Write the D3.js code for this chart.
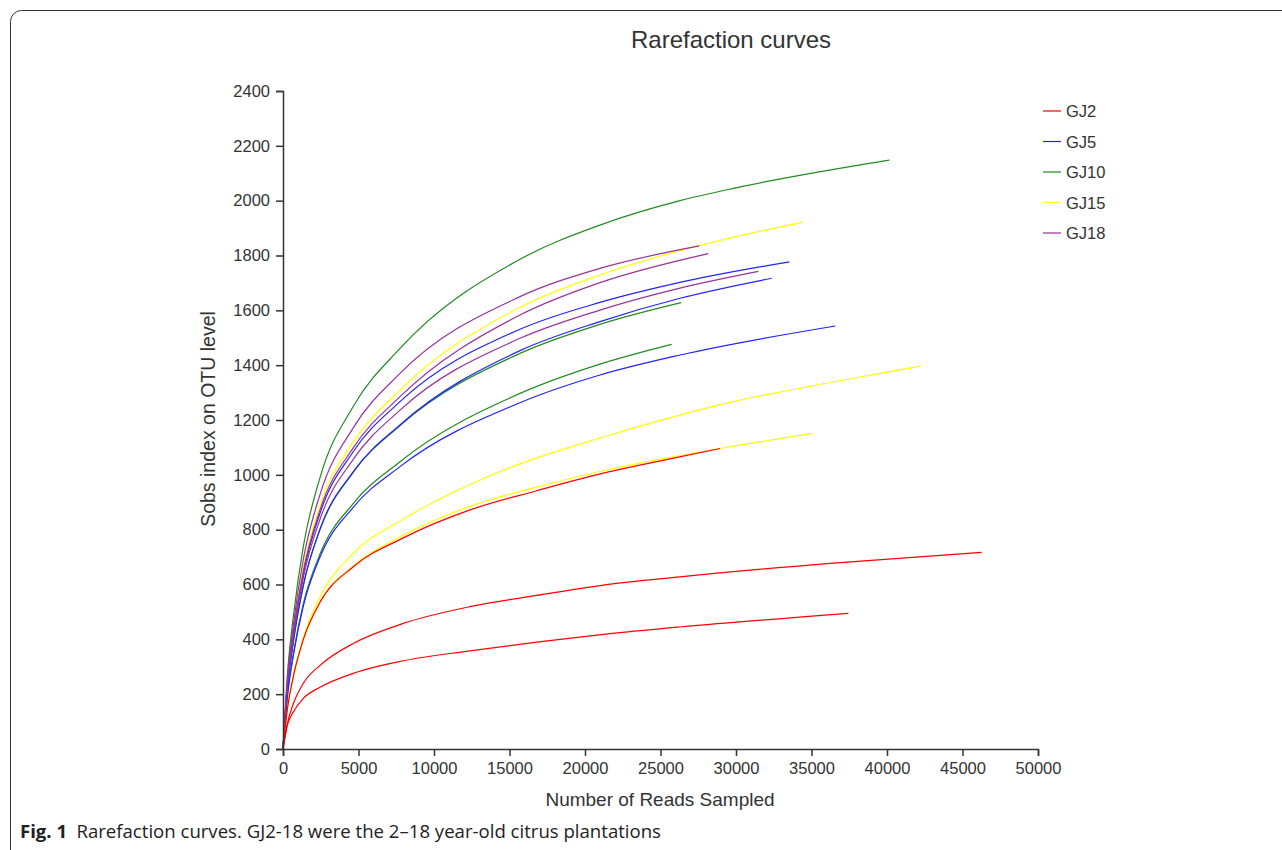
<!DOCTYPE html>
<html lang="en">
<head>
    <meta charset="UTF-8">
    <title>Rarefaction curves</title>
    <script src="https://d3js.org/d3.v7.min.js"></script>
    <style>
        body {
            margin: 0;
            background: #fff;
        }
        text {
            font-family: "Liberation Sans", Arial, sans-serif;
            fill: #333;
        }
        .axis path, .axis line {
            stroke: #333;
            stroke-width: 1.5;
        }
        .axis text {
            font-size: 16.5px;
            fill: #333;
        }
        .curve {
            fill: none;
            stroke-width: 1.2;
        }
        .caption {
            font-family: "Open Sans", "Noto Sans", sans-serif;
            font-size: 18px;
            fill: #222;
        }
    </style>
</head>
<body>
<script>
    const width = 1282;
    const height = 850;

    const groups = ["GJ2", "GJ5", "GJ10", "GJ15", "GJ18"];
    const colors = ["#ff0000", "#2222ff", "#228b22", "#ffff00", "#993399"];

    const xTicks = [0, 5000, 10000, 15000, 20000, 25000, 30000, 35000, 40000, 45000, 50000];
    const yTicks = [0, 200, 400, 600, 800, 1000, 1200, 1400, 1600, 1800, 2000, 2200, 2400];

    // three samples per group, [reads, sobs]
    const gj2 = [
        [[0,0],[300,90],[684,135],[1347,185],[2450,225],[4658,276],[8000,322],[12384,358],[16800,390],[21214,418],[26291,445],[37440,495]],
        [[0,0],[300,95],[684,165],[1347,240],[2450,305],[4658,385],[7969,458],[12384,519],[16800,560],[21214,598],[26291,628],[36225,677],[46270,717]],
        [[0,0],[300,150],[684,265],[1347,400],[2450,535],[4658,665],[7969,770],[12384,872],[16800,942],[21214,1006],[25629,1058],[28940,1096]]
    ];
    const gj5 = [
        [[0,0],[300,240],[700,425],[1350,640],[2450,860],[4660,1085],[7748,1267],[15695,1531],[20993,1629],[26291,1702],[33530,1777]],
        [[0,0],[300,224],[700,397],[1350,598],[2450,802],[4660,1012],[7748,1182],[15695,1453],[20993,1559],[26291,1644],[32362,1717]],
        [[0,0],[300,196],[700,346],[1350,522],[2450,700],[4660,882],[7748,1030],[15695,1263],[20993,1364],[26291,1437],[36579,1543]]
    ];
    const gj10 = [
        [[0,0],[300,277],[700,490],[1350,740],[2450,990],[4660,1250],[7748,1461],[15695,1786],[20993,1911],[26291,2000],[29824,2045],[40155,2148]],
        [[0,0],[300,224],[700,396],[1350,597],[2450,800],[4660,1010],[7748,1180],[15695,1443],[20993,1549],[26358,1628]],
        [[0,0],[300,199],[700,352],[1350,531],[2450,711],[4660,896],[7748,1048],[15695,1297],[20993,1404],[25740,1476]]
    ];
    const gj15 = [
        [[0,0],[300,248],[700,439],[1350,663],[2450,888],[4660,1120],[7748,1309],[15695,1611],[20993,1729],[26291,1818],[34414,1922]],
        [[0,0],[300,150],[684,265],[1347,405],[2450,555],[4658,714],[7850,835],[12384,965],[15695,1040],[21214,1138],[26291,1218],[30486,1275],[32914,1302],[39536,1370],[42232,1397]],
        [[0,0],[300,150],[684,265],[1347,400],[2450,537],[4658,668],[7969,780],[12384,885],[16800,955],[21214,1015],[26291,1070],[28940,1096],[35078,1151]]
    ];
    const gj18 = [
        [[0,0],[300,260],[700,459],[1350,693],[2450,928],[4660,1172],[7748,1370],[15695,1650],[20993,1753],[27572,1835]],
        [[0,0],[300,245],[700,431],[1350,650],[2450,872],[4660,1099],[7748,1285],[15695,1583],[20993,1701],[28165,1807]],
        [[0,0],[300,235],[700,414],[1350,626],[2450,838],[4660,1057],[7748,1236],[15695,1498],[20993,1601],[26291,1681],[31477,1742]]
    ];

    // drawing order: later ones on top
    const series = [
        {group: "GJ15", curves: gj15},
        {group: "GJ10", curves: gj10},
        {group: "GJ5", curves: gj5},
        {group: "GJ18", curves: gj18},
        {group: "GJ2", curves: gj2}
    ];

    const margin = {left: 283, top: 91, right: 244, bottom: 101};

    const x = d3.scaleLinear().domain([0, 50000]).range([margin.left, width - margin.right]);
    const y = d3.scaleLinear().domain([0, 2400]).range([height - margin.bottom, margin.top]);
    const color = d3.scaleOrdinal().domain(groups).range(colors);

    const svg = d3.select("body").append("svg").attr("width", width).attr("height", height);

    // frame of the figure
    svg.append("rect")
        .attr("x", 10.5).attr("y", 10.5)
        .attr("width", 1320).attr("height", 900)
        .attr("rx", 11)
        .attr("fill", "none")
        .attr("stroke", "#333")
        .attr("stroke-width", 1);

    svg.append("text")
        .attr("x", 731).attr("y", 48)
        .attr("text-anchor", "middle")
        .style("font-size", "24px")
        .text("Rarefaction curves");

    const line = d3.line()
        .x(d => x(d[0]))
        .y(d => y(d[1]))
        .curve(d3.curveMonotoneX);

    const lines = svg.append("g").attr("class", "lines");
    series.forEach(s => {
        lines.selectAll(null)
            .data(s.curves)
            .enter()
            .append("path")
            .attr("class", "curve")
            .attr("stroke", color(s.group))
            .attr("d", line);
    });

    svg.append("g")
        .attr("class", "axis")
        .attr("transform", `translate(0,${y(0)})`)
        .call(d3.axisBottom(x).tickValues(xTicks).tickSize(7).tickPadding(6).tickFormat(d3.format("d")));

    svg.append("g")
        .attr("class", "axis")
        .attr("transform", `translate(${x(0)},0)`)
        .call(d3.axisLeft(y).tickValues(yTicks).tickSize(7).tickPadding(6).tickFormat(d3.format("d")));

    svg.append("text")
        .attr("x", 660).attr("y", 806)
        .attr("text-anchor", "middle")
        .style("font-size", "19px")
        .text("Number of Reads Sampled");

    svg.append("text")
        .attr("transform", "translate(215,419) rotate(-90)")
        .attr("text-anchor", "middle")
        .style("font-size", "19.5px")
        .text("Sobs index on OTU level");

    // legend
    const legend = svg.append("g").attr("class", "legend")
        .selectAll("g")
        .data(groups)
        .enter()
        .append("g")
        .attr("transform", (d, i) => `translate(1043,${111 + i * 30.5})`);

    legend.append("line")
        .attr("x1", 0).attr("x2", 18)
        .attr("stroke", d => color(d))
        .attr("stroke-width", 1.2);

    legend.append("text")
        .attr("x", 23).attr("y", 6)
        .style("font-size", "16.5px")
        .text(d => d);

    // caption
    const cap = svg.append("text")
        .attr("class", "caption")
        .attr("x", 20).attr("y", 838)
        .attr("textLength", 641)
        .attr("lengthAdjust", "spacingAndGlyphs");
    cap.append("tspan").style("font-weight", "bold").text("Fig. 1");
    cap.append("tspan").text("\u2002Rarefaction curves. GJ2-18 were the 2\u201318 year-old citrus plantations");
</script>
</body>
</html>
